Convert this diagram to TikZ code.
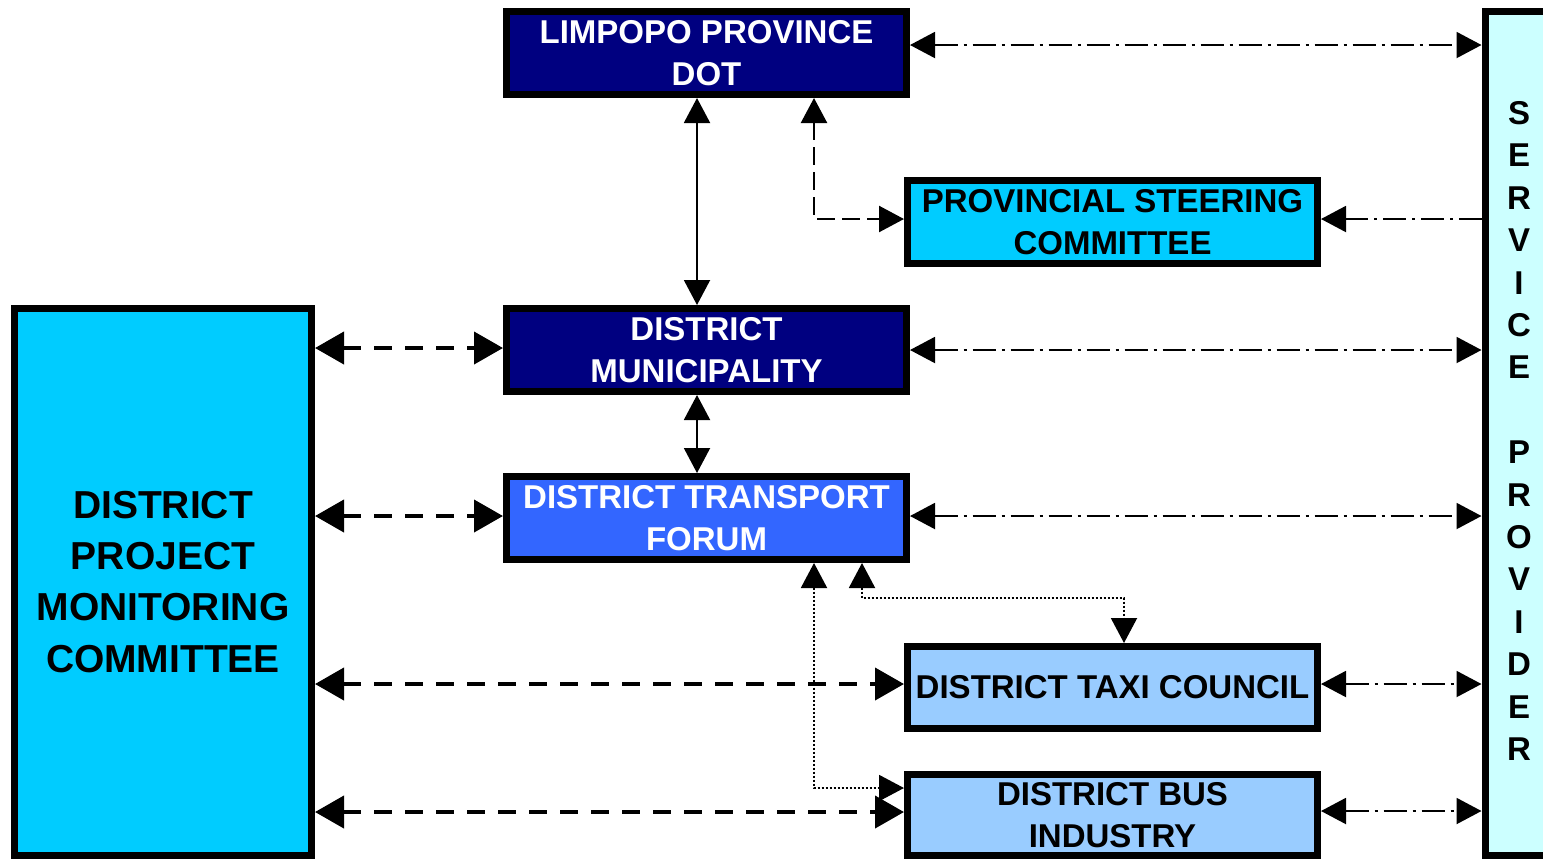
\documentclass[tikz,border=0pt]{standalone}
\usepackage{fontspec}
\setmainfont{Liberation Sans}
\usetikzlibrary{arrows.meta}
\definecolor{navyc}{HTML}{000080}
\definecolor{cyanc}{HTML}{00CCFF}
\definecolor{bluec}{HTML}{3366FF}
\definecolor{lightc}{HTML}{99CCFF}
\definecolor{paleC}{HTML}{CCFFFF}
\tikzset{
  box/.style={draw=black, line width=3.5pt, inner sep=0pt, align=center,
    font=\bfseries\fontsize{16.5}{21}\selectfont},
  tipS/.style={{Triangle[length=12.5pt,width=13pt]}-{Triangle[length=12.5pt,width=13pt]}},
  tipB/.style={{Triangle[length=14.5pt,width=16pt]}-{Triangle[length=14.5pt,width=16pt]}},
  solidcon/.style={line width=1pt, tipS},
  ddcon/.style={line width=1pt, dash pattern=on 11.5pt off 3pt on 1.5pt off 3pt},
  thickdash/.style={line width=2pt, dash pattern=on 9pt off 6.5pt, tipB},
  thindash/.style={line width=1.2pt, dash pattern=on 9pt off 3.5pt, tipS},
  dotcon/.style={line width=1pt, dash pattern=on 1pt off 1pt, tipS},
}
\begin{document}
\begin{tikzpicture}[x=0.5pt,y=-0.5pt]
\useasboundingbox (0,0) rectangle (1543,859);
% boxes
\node[box, fill=navyc, text=white, minimum width=200pt, minimum height=41.5pt] (lim) at (706.5,53) {LIMPOPO PROVINCE\\DOT};
\node[box, fill=cyanc, minimum width=205pt, minimum height=41.5pt] (psc) at (1112.5,222) {PROVINCIAL STEERING\\COMMITTEE};
\node[box, fill=navyc, text=white, minimum width=200pt, minimum height=41.5pt] (dm) at (706.5,350) {DISTRICT\\MUNICIPALITY};
\node[box, fill=bluec, text=white, minimum width=200pt, minimum height=41.5pt] (dtf) at (706.5,518) {DISTRICT TRANSPORT\\FORUM};
\node[box, fill=lightc, minimum width=205pt, minimum height=41pt] (dtc) at (1112.5,687.5) {DISTRICT TAXI COUNCIL};
\node[box, fill=lightc, minimum width=205pt, minimum height=40.25pt] (dbi) at (1112.5,815) {DISTRICT BUS\\INDUSTRY};
\node[box, fill=cyanc, minimum width=148.5pt, minimum height=273.25pt,
  font=\bfseries\fontsize{19.5}{25.7}\selectfont] (dpmc) at (163,581.75) {DISTRICT\\PROJECT\\MONITORING\\COMMITTEE};
\node[box, fill=paleC, minimum width=37.5pt, minimum height=421.75pt] (sp) at (1522.5,433.25) {};
\node[align=center, inner sep=0pt, font=\bfseries\fontsize{16.5}{21.2}\selectfont] (sptext) at (1519,431)
  {S\\E\\R\\V\\I\\C\\E\\[21.2pt]P\\R\\O\\V\\I\\D\\E\\R};
% dash-dot connectors to service provider
\draw[ddcon, tipS] (lim.east |- 0,45) -- (sp.west |- 0,45);
\draw[ddcon, -{Triangle[length=12.5pt,width=13pt]}] (sp.west |- 0,219) -- (psc.east |- 0,219);
\draw[ddcon, tipS] (dm.east |- 0,350) -- (sp.west |- 0,350);
\draw[ddcon, tipS] (dtf.east |- 0,516) -- (sp.west |- 0,516);
\draw[ddcon, tipS] (dtc.east |- 0,684) -- (sp.west |- 0,684);
\draw[ddcon, tipS] (dbi.east |- 0,811) -- (sp.west |- 0,811);
% solid verticals
\draw[solidcon] (lim.south -| 697,0) -- (dm.north -| 697,0);
\draw[solidcon] (dm.south -| 697,0) -- (dtf.north -| 697,0);
% thin dashed LIM - PSC
\draw[thindash] (lim.south -| 814,0) |- (psc.west |- 0,219);
% thick dashed from DPMC
\draw[thickdash] (dpmc.east |- 0,348) -- (dm.west |- 0,348);
\draw[thickdash] (dpmc.east |- 0,516) -- (dtf.west |- 0,516);
\draw[thickdash] (dpmc.east |- 0,684) -- (dtc.west |- 0,684);
\draw[thickdash] (dpmc.east |- 0,812) -- (dbi.west |- 0,812);
% dotted
\draw[dotcon] (dtf.south -| 862,0) -- (862,598) -| (dtc.north -| 1124,0);
\draw[dotcon] (dtf.south -| 814,0) |- (dbi.west |- 0,788);
\end{tikzpicture}
\end{document}
